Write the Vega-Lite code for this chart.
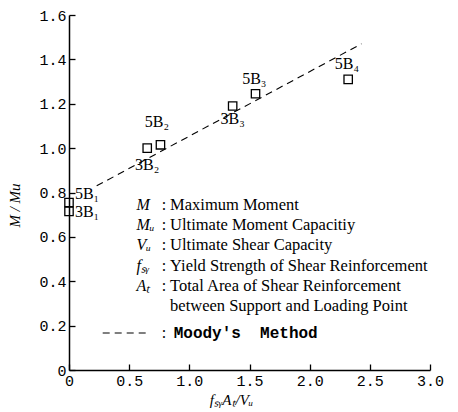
{
  "$schema": "https://vega.github.io/schema/vega-lite/v6.json",
  "autosize": "none",
  "width": 361,
  "height": 355,
  "padding": {"left": 69, "top": 15, "right": 28, "bottom": 42},
  "background": "white",
  "config": {"view": {"stroke": null}, "font": "Liberation Serif"},
  "datasets": {
    "pts": [
      {"spec": "5B1", "x": 0.0, "y": 0.755},
      {"spec": "3B1", "x": 0.0, "y": 0.715},
      {"spec": "3B2", "x": 0.65, "y": 1.0},
      {"spec": "5B2", "x": 0.76, "y": 1.015},
      {"spec": "3B3", "x": 1.36, "y": 1.19},
      {"spec": "5B3", "x": 1.55, "y": 1.245},
      {"spec": "5B4", "x": 2.32, "y": 1.31}
    ],
    "labels": [
      {"label": "5B₁", "x": 0.15, "y": 0.795},
      {"label": "3B₁", "x": 0.15, "y": 0.71},
      {"label": "5B₂", "x": 0.73, "y": 1.12},
      {"label": "3B₂", "x": 0.65, "y": 0.925},
      {"label": "3B₃", "x": 1.36, "y": 1.13},
      {"label": "5B₃", "x": 1.54, "y": 1.31},
      {"label": "5B₄", "x": 2.31, "y": 1.38}
    ],
    "moody": [
      {"x": 0.23, "y": 0.83},
      {"x": 2.43, "y": 1.47}
    ],
    "legend": [
      {"sym": "M", "sep": ":", "desc": "Maximum Moment", "y": 0.743},
      {"sym": "Mᵤ", "sep": ":", "desc": "Ultimate Moment Capacitiy", "y": 0.653},
      {"sym": "Vᵤ", "sep": ":", "desc": "Ultimate Shear Capacity", "y": 0.563},
      {"sym": "fₛᵧ", "sep": ":", "desc": "Yield Strength of Shear Reinforcement", "y": 0.468},
      {"sym": "Aₜ", "sep": ":", "desc": "Total Area of Shear Reinforcement", "y": 0.378},
      {"sym": "", "sep": "", "desc": "between Support and Loading Point", "y": 0.288}
    ],
    "legendLine": [
      {"x": 0.28, "x2": 0.66, "y": 0.167, "sep": ":", "desc": "Moody's\u00a0\u00a0Method"}
    ]
  },
  "layer": [
    {
      "data": {"name": "pts"},
      "mark": {"type": "point", "shape": "square", "filled": false, "stroke": "black", "strokeWidth": 1.3, "size": 70, "opacity": 1},
      "encoding": {
        "x": {
          "field": "x", "type": "quantitative",
          "scale": {"domain": [0, 3], "nice": false, "zero": false},
          "axis": {
            "values": [0, 0.5, 1, 1.5, 2, 2.5, 3],
            "labelExpr": "datum.value == 0 ? '0' : format(datum.value, '.1f')",
            "labelFont": "Liberation Mono", "labelFontSize": 15, "labelColor": "black",
            "domainColor": "black", "domainWidth": 1.5, "tickColor": "black", "tickWidth": 1.3, "tickSize": -6,
            "labelPadding": 9, "grid": false, "labelFlush": false,
            "title": "fₛᵧAₜ/Vᵤ", "titleFont": "Liberation Serif", "titleFontStyle": "italic",
            "titleFontWeight": "normal", "titleFontSize": 15, "titleColor": "black",
            "titleX": 162, "titleY": 22
          }
        },
        "y": {
          "field": "y", "type": "quantitative",
          "scale": {"domain": [0, 1.6], "nice": false, "zero": false},
          "axis": {
            "values": [0, 0.2, 0.4, 0.6, 0.8, 1.0, 1.2, 1.4, 1.6],
            "labelExpr": "datum.value == 0 ? '0' : format(datum.value, '.1f')",
            "labelFont": "Liberation Mono", "labelFontSize": 15, "labelColor": "black",
            "domainColor": "black", "domainWidth": 1.5, "tickColor": "black", "tickWidth": 1.3, "tickSize": -6,
            "labelPadding": 9, "grid": false, "labelFlush": false,
            "title": "M / Mu", "titleFont": "Liberation Serif", "titleFontStyle": "italic",
            "titleFontWeight": "normal", "titleFontSize": 15, "titleColor": "black",
            "titleX": -47, "titleY": 190
          }
        }
      }
    },
    {
      "data": {"name": "moody"},
      "mark": {"type": "line", "color": "black", "strokeWidth": 1.1, "strokeDash": [7, 5]},
      "encoding": {
        "x": {"field": "x", "type": "quantitative"},
        "y": {"field": "y", "type": "quantitative"}
      }
    },
    {
      "data": {"name": "labels"},
      "mark": {"type": "text", "font": "Liberation Serif", "fontSize": 16, "color": "black", "align": "center", "baseline": "middle"},
      "encoding": {
        "x": {"field": "x", "type": "quantitative"},
        "y": {"field": "y", "type": "quantitative"},
        "text": {"field": "label"}
      }
    },
    {
      "data": {"name": "legend"},
      "mark": {"type": "text", "font": "Liberation Serif", "fontStyle": "italic", "fontSize": 16, "color": "black", "align": "left", "baseline": "middle"},
      "encoding": {
        "x": {"datum": 0.56, "type": "quantitative"},
        "y": {"field": "y", "type": "quantitative"},
        "text": {"field": "sym"}
      }
    },
    {
      "data": {"name": "legend"},
      "mark": {"type": "text", "font": "Liberation Serif", "fontSize": 16, "color": "black", "align": "left", "baseline": "middle"},
      "encoding": {
        "x": {"datum": 0.77, "type": "quantitative"},
        "y": {"field": "y", "type": "quantitative"},
        "text": {"field": "sep"}
      }
    },
    {
      "data": {"name": "legend"},
      "mark": {"type": "text", "font": "Liberation Serif", "fontSize": 16.5, "color": "black", "align": "left", "baseline": "middle"},
      "encoding": {
        "x": {"datum": 0.84, "type": "quantitative"},
        "y": {"field": "y", "type": "quantitative"},
        "text": {"field": "desc"}
      }
    },
    {
      "data": {"name": "legendLine"},
      "mark": {"type": "rule", "color": "black", "strokeWidth": 1.1, "strokeDash": [7, 5]},
      "encoding": {
        "x": {"field": "x", "type": "quantitative"},
        "x2": {"field": "x2"},
        "y": {"field": "y", "type": "quantitative"}
      }
    },
    {
      "data": {"name": "legendLine"},
      "mark": {"type": "text", "font": "Liberation Serif", "fontSize": 16, "color": "black", "align": "left", "baseline": "middle"},
      "encoding": {
        "x": {"datum": 0.77, "type": "quantitative"},
        "y": {"field": "y", "type": "quantitative"},
        "text": {"field": "sep"}
      }
    },
    {
      "data": {"name": "legendLine"},
      "mark": {"type": "text", "font": "Liberation Mono", "fontWeight": "bold", "fontSize": 16, "color": "black", "align": "left", "baseline": "middle"},
      "encoding": {
        "x": {"datum": 0.87, "type": "quantitative"},
        "y": {"field": "y", "type": "quantitative"},
        "text": {"field": "desc"}
      }
    }
  ]
}
